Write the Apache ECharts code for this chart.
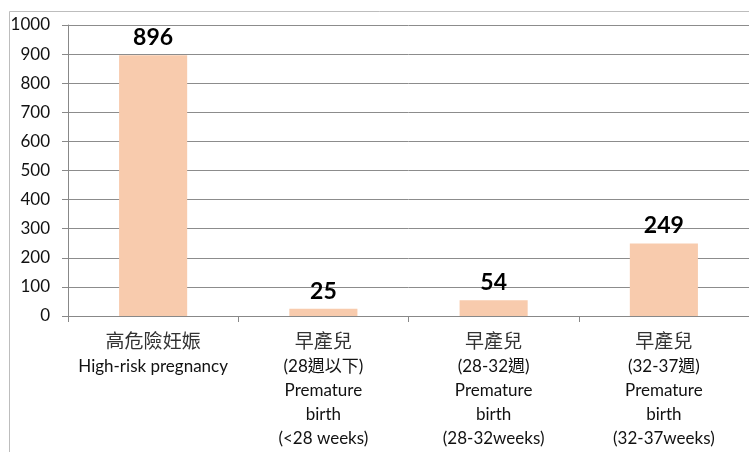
<!DOCTYPE html>
<html>
<head>
<meta charset="utf-8">
<script src="https://cdn.jsdelivr.net/npm/echarts@6/dist/echarts.min.js"></script>
<style>
  html, body { margin: 0; padding: 0; background: #fff; }
  #chart { width: 749px; height: 452px; }
</style>
</head>
<body>
<div id="chart"></div>
<script>
// chart data
const categories = [
  '高危險妊娠\nHigh-risk pregnancy',
  '早產兒\n(28週以下)\nPremature\nbirth\n(<28 weeks)',
  '早產兒\n(28-32週)\nPremature\nbirth\n(28-32weeks)',
  '早產兒\n(32-37週)\nPremature\nbirth\n(32-37weeks)'
];
const cases = [896, 25, 54, 249];
const yTicks = [0, 1000, 100]; // min, max, step

const chart = echarts.init(document.getElementById('chart'));

const font = 'Lato, "Noto Sans CJK TC", sans-serif';

chart.setOption({
  animation: false,
  backgroundColor: '#fff',
  graphic: [
    {
      // outer chart frame
      type: 'polyline',
      shape: { points: [[9.5, 452], [9.5, 11.5], [760, 11.5]] },
      style: { stroke: '#bdbdbd', lineWidth: 1, fill: null }
    }
  ],
  grid: { left: 68, right: -2, top: 25, bottom: 136 },
  xAxis: {
    type: 'category',
    data: categories,
    axisLine: { lineStyle: { color: '#888', width: 1 } },
    axisTick: { show: true, length: 6, lineStyle: { color: '#888' } },
    axisLabel: {
      interval: 0,
      margin: 11,
      color: '#111',
      fontFamily: font,
      fontSize: 17,
      lineHeight: 24,
      // first (Chinese) line a bit bigger and greyer
      formatter: function (val) {
        const lines = val.split('\n');
        lines[0] = '{zh|' + lines[0] + '}';
        return lines.join('\n');
      },
      rich: {
        zh: {
          fontFamily: '"Noto Sans CJK TC", sans-serif',
          fontSize: 19,
          lineHeight: 28,
          color: '#333'
        }
      }
    }
  },
  yAxis: {
    type: 'value',
    min: yTicks[0],
    max: yTicks[1],
    interval: yTicks[2],
    axisLine: { show: true, lineStyle: { color: '#888', width: 1 } },
    axisTick: { show: true, length: 6, lineStyle: { color: '#888' } },
    splitLine: { lineStyle: { color: '#8c8c8c', width: 1 } },
    axisLabel: {
      margin: 18,
      color: '#111',
      fontFamily: font,
      fontSize: 17,
      formatter: function (v) { return String(v); }
    }
  },
  series: [
    {
      type: 'bar',
      data: cases,
      barWidth: '40%',
      itemStyle: { color: '#F8CBAD' },
      label: {
        show: true,
        position: 'top',
        distance: 6,
        color: '#000',
        fontFamily: font,
        fontWeight: 'bold',
        fontSize: 23
      }
    }
  ]
});
</script>
</body>
</html>
